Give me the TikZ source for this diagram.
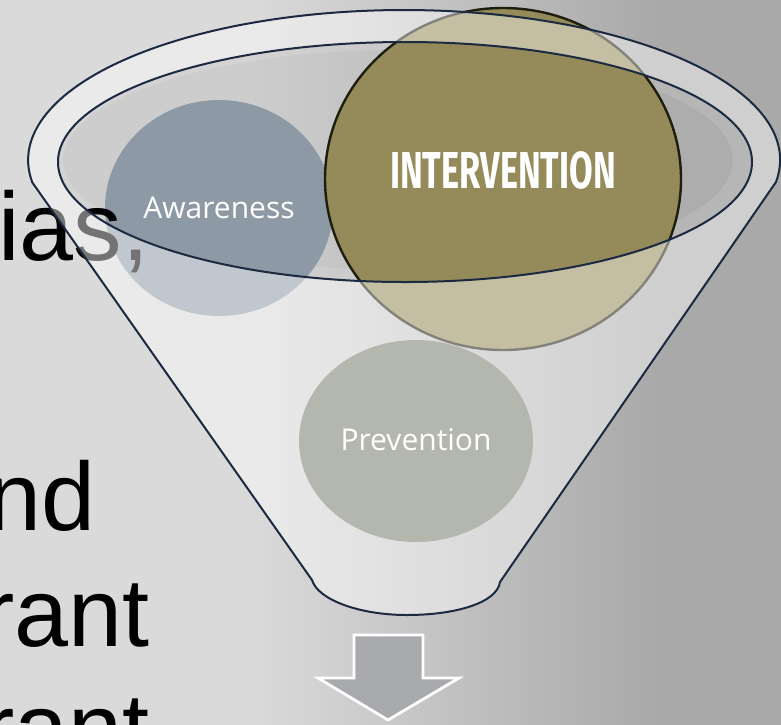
\documentclass[tikz,border=0pt]{standalone}
\usepackage{fontspec}
\setmainfont{Liberation Sans}
\newfontfamily\circlefont{Open Sans}
\newfontfamily\stagefont{Fira Sans}
\usepackage{xcolor}
\definecolor{funnelink}{HTML}{1B2A41}
\definecolor{bgleft}{HTML}{DADADA}
\definecolor{bgright}{HTML}{A9A9A9}
\definecolor{awarefill}{HTML}{8E99A6}
\definecolor{intervfill}{HTML}{958A59}
\definecolor{intervline}{HTML}{1E1E0E}
\definecolor{prevfill}{HTML}{787C6C}
\definecolor{mouthtint}{HTML}{B5B5B5}
\definecolor{arrowfill}{HTML}{A9AAAE}
\pgfdeclarehorizontalshading{slidebg}{100bp}{color(0bp)=(bgleft); color(41bp)=(bgleft); color(67bp)=(bgright); color(100bp)=(bgright)}

\begin{document}
\begin{tikzpicture}[
  x=0.5pt,
  y=-0.5pt,
  every node/.style={inner sep=0pt},
  bigline/.style={anchor=base west, font=\fontsize{48.5}{58}\selectfont},
  stagelabel/.style={white, font=\circlefont\fontsize{15}{18}\selectfont}
]
  \def\mouth{(405,162) ellipse [x radius=347, y radius=120]}
  \def\funnel{(32,182) -- (312,580)
    .. controls (318,600) and (360,615) .. (407,615)
    .. controls (455,615) and (497,603) .. (500,582)
    -- (776,182) arc [start angle=8.43, end angle=-188.43, x radius=376, y radius=150] -- cycle}

  \useasboundingbox (0,0) rectangle (781,724);
  \clip (0,0) rectangle (781,724);
  \shade[shading=slidebg] (0,0) rectangle (781,724);

  % funnel mouth
  \fill[mouthtint, fill opacity=0.35] \mouth;
  \fill[white, fill opacity=0.12, even odd rule] \mouth (398,160) ellipse [x radius=335, y radius=110];

  % the three stages
  \fill[awarefill] (219,208) ellipse [x radius=114, y radius=108];
  \filldraw[fill=intervfill, draw=intervline, line width=1.2pt] (503,179) ellipse [x radius=178, y radius=171];
  \fill[prevfill] (416,441) ellipse [x radius=117, y radius=101];

  % slide text, under the funnel body
  \node[bigline] (line1) at (-2,260) {ias,};
  \node[bigline] (line2) at (-13,530) {nd};
  \node[bigline] (line3) at (-18,646) {rant};
  \node[bigline] (line4) at (-18,761) {rant};

  % funnel body over the stages
  \fill[white, fill opacity=0.45, even odd rule] \funnel \mouth;
  \draw[funnelink, line width=1pt, line join=round] \funnel;
  \draw[funnelink, line width=1pt] \mouth;

  \node[stagelabel] (awareness) at (219,208) {Awareness};
  \node[white, font=\stagefont\bfseries\fontsize{26}{30}\selectfont] (intervention) at (503,170) {\scalebox{0.66}[1]{INTERVENTION}};
  \node[stagelabel] (prevention) at (416,440) {Prevention};

  % output arrow
  \draw[white, fill=arrowfill, line width=1.4pt] (354,635) -- (423,635) -- (423,678) -- (459,678)
    -- (388,720) -- (318,678) -- (354,678) -- cycle;
\end{tikzpicture}
\end{document}
